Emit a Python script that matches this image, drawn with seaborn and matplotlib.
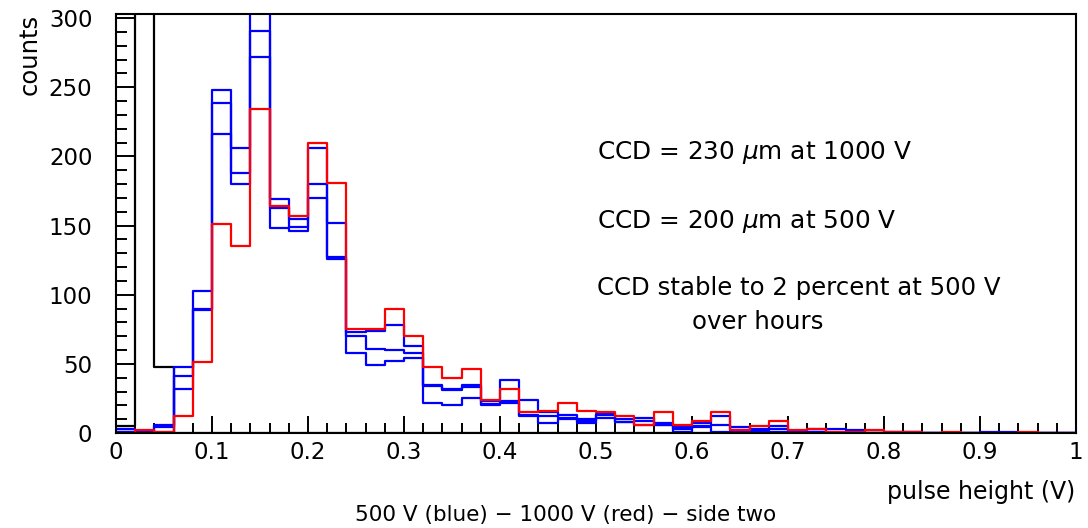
import numpy as np
import pandas as pd
import matplotlib
matplotlib.use("Agg")
import matplotlib.pyplot as plt
import seaborn as sns
from matplotlib.ticker import MultipleLocator, FuncFormatter

# Histogram binning: 50 bins of 0.02 V between 0 and 1 V
bin_edges = np.linspace(0.0, 1.0, 51)
bin_centers = 0.5 * (bin_edges[:-1] + bin_edges[1:])

# Counts (one value per bin)
black_counts = [5, 1200, 48, 0, 0, 0, 0, 0, 0, 0,
                0, 0, 0, 0, 0, 0, 0, 0, 0, 0,
                0, 0, 0, 0, 0, 0, 0, 0, 0, 0,
                0, 0, 0, 0, 0, 0, 0, 0, 0, 0,
                0, 0, 0, 0, 0, 0, 0, 0, 0, 0]
blue_a = [3, 1, 6, 48, 103, 248, 206, 330, 169, 155,
          206, 152, 73, 74, 78, 63, 35, 32, 35, 23,
          38, 24, 15, 13, 10, 14, 10, 11, 7, 4,
          7, 12, 4, 3, 5, 1, 3, 3, 2, 0,
          1, 1, 0, 0, 0, 1, 1, 0, 0, 0]
blue_b = [1, 0, 4, 41, 90, 239, 188, 291, 163, 149,
          180, 127, 70, 61, 60, 58, 34, 31, 33, 21,
          23, 13, 12, 11, 9, 13, 8, 9, 6, 3,
          5, 6, 2, 2, 3, 1, 1, 1, 0, 0,
          1, 1, 0, 0, 0, 0, 0, 0, 0, 0]
blue_c = [1, 0, 1, 32, 89, 216, 180, 272, 148, 146,
          170, 126, 58, 49, 52, 54, 22, 20, 25, 20,
          22, 12, 7, 10, 7, 11, 8, 6, 6, 1,
          4, 1, 1, 1, 1, 0, 1, 0, 0, 0,
          0, 0, 0, 0, 0, 0, 0, 0, 0, 0]
red_counts = [0, 2, 1, 12, 51, 151, 135, 234, 164, 157,
              210, 181, 75, 75, 90, 70, 48, 40, 46, 24,
              32, 15, 16, 22, 16, 15, 12, 6, 15, 6,
              9, 15, 2, 5, 9, 2, 3, 1, 1, 2,
              1, 1, 0, 1, 0, 0, 0, 1, 0, 0]

series = [
    (black_counts, "black"),
    (blue_a, "#0000ff"),
    (blue_b, "#0000ff"),
    (blue_c, "#0000ff"),
    (red_counts, "#ff0000"),
]

plt.rcParams["font.family"] = ["DejaVu Sans"]

fig = plt.figure(figsize=(10.88, 5.28), dpi=100)
ax = fig.add_axes([116 / 1088, 1 - 433 / 528, 960 / 1088, 419 / 528])

for counts, color in series:
    df = pd.DataFrame({"pulse": bin_centers, "counts": counts})
    sns.histplot(data=df, x="pulse", weights="counts", binwidth=0.02,
                 binrange=(0.0, 1.0), element="step", fill=False,
                 color=color, linewidth=1.6, ax=ax)

ax.set_xlim(0, 1)
ax.set_ylim(0, 303)

ax.xaxis.set_major_locator(MultipleLocator(0.1))
ax.xaxis.set_minor_locator(MultipleLocator(0.02))
ax.yaxis.set_major_locator(MultipleLocator(50))
ax.yaxis.set_minor_locator(MultipleLocator(10))
ax.xaxis.set_major_formatter(FuncFormatter(lambda v, p: f"{v:g}"))

ax.tick_params(axis="both", which="both", direction="in", top=False,
               right=False, color="black", width=1.4, labelsize=16.5)
ax.tick_params(axis="x", which="major", length=12, pad=6)
ax.tick_params(axis="x", which="minor", length=7)
ax.tick_params(axis="y", which="major", length=14.5, pad=17)
ax.tick_params(axis="y", which="minor", length=8)

for sp in ax.spines.values():
    sp.set_linewidth(1.5)
    sp.set_color("black")

ax.set_xlabel("")
ax.set_ylabel("")

# labels
fig.text(30 / 1088, 1 - 14 / 528, "counts", rotation=90, ha="center",
         va="top", fontsize=17.5)
fig.text(1075 / 1088, 1 - 492 / 528, "pulse height (V)", ha="right",
         va="center", fontsize=17)
fig.text(566 / 1088, 1 - 515 / 528,
         "500 V (blue) \u2212 1000 V (red) \u2212 side two",
         ha="center", va="center", fontsize=15.5)

# annotations
ax.text(0.501, 203, r"CCD = 230 $\mu$m at 1000 V", ha="left",
        va="center", fontsize=17.8)
ax.text(0.501, 153, r"CCD = 200 $\mu$m at 500 V", ha="left",
        va="center", fontsize=17.8)
ax.text(0.501, 105, "CCD stable to 2 percent at 500 V", ha="left",
        va="center", fontsize=17.6)
ax.text(0.668, 80, "over hours", ha="center", va="center", fontsize=17.6)

fig.savefig("out.png", dpi=100)
